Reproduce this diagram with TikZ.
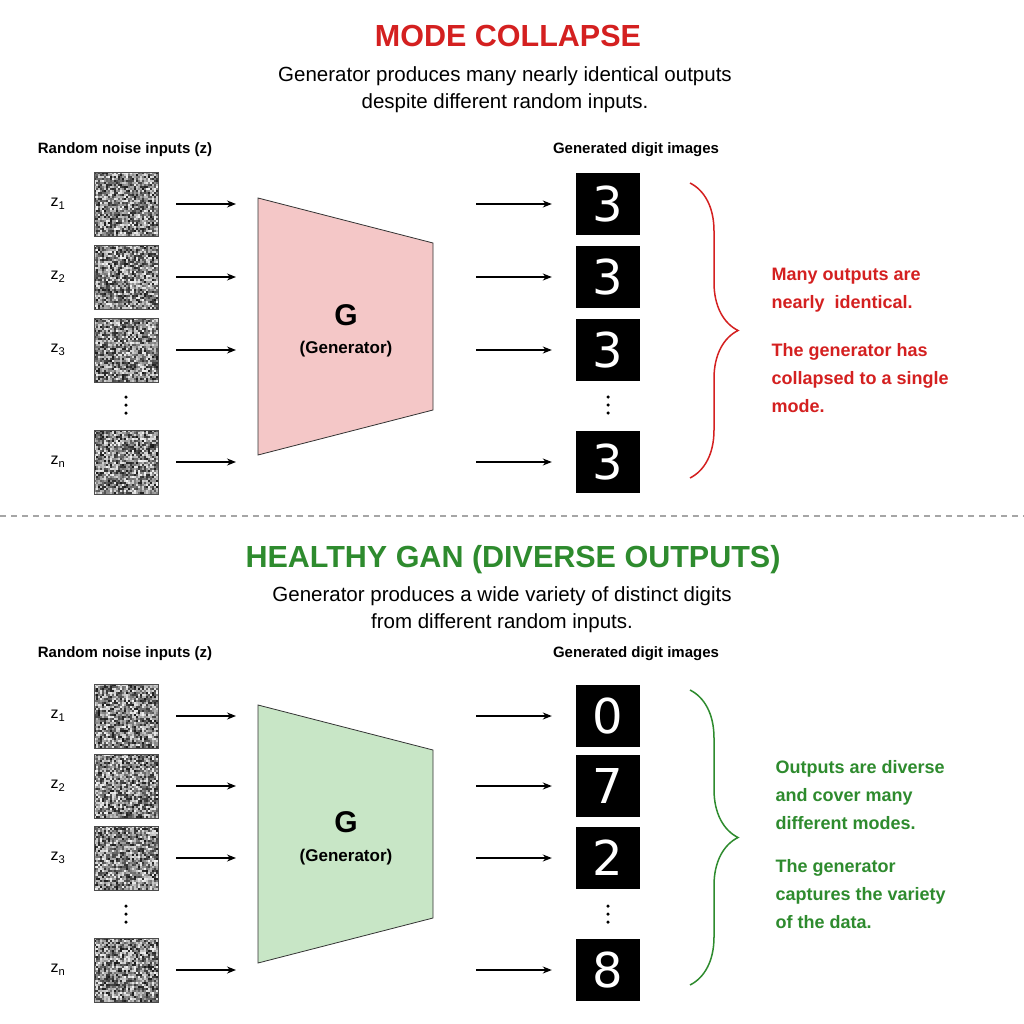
\documentclass[tikz,border=0pt]{standalone}
\usepackage{fontspec}
\setmainfont{Liberation Sans}
\newfontfamily\digitfont{DejaVu Sans}
\usetikzlibrary{decorations.pathreplacing,arrows.meta}
\definecolor{collred}{HTML}{D42020}
\definecolor{healthgreen}{HTML}{2E8B2E}
\definecolor{genpink}{HTML}{F4C7C7}
\definecolor{gengreen}{HTML}{C8E6C6}
\tikzset{
  noise/.style={draw=black!70, minimum size=64pt, inner sep=0pt},
  digit/.style={fill=black, text=white, minimum width=64pt, minimum height=62pt, inner sep=0pt, font=\digitfont\fontsize{48}{48}\selectfont},
  zlabel/.style={font=\fontsize{16}{16}\selectfont},
  arr/.style={-{Stealth[length=9pt,width=7pt]}, line width=1.3pt},
  hdr/.style={font=\bfseries\fontsize{15}{15}\selectfont},
  sub/.style={align=center, font=\fontsize{20.5}{27}\selectfont},
  note/.style={align=left, anchor=west, font=\bfseries\fontsize{18}{28}\selectfont},
  dot/.style={circle, fill=black, inner sep=0pt, minimum size=3.5pt},
}
\newcommand{\noisefill}[2]{%
  \foreach \u in {0,...,31} \foreach \v in {0,...,31} {%
    \pgfmathrandominteger{\r}{5}{90}%
    \fill[black!\r] (#1+\u*2, #2+\v*2) rectangle ++(2,2);}}
\newcommand{\vdotsat}[2]{%
  \foreach \t in {-8,0,8} \node[dot] at (#1,#2+\t) {};}
\begin{document}
\begin{tikzpicture}[x=1pt,y=-1pt]
\pgfmathsetseed{7}
\useasboundingbox[fill=white] (0,0) rectangle (1024,1024);
\begin{scope}
\node[text=collred, font=\bfseries\fontsize{30.5}{30.5}\selectfont] (title) at (508,36) {MODE COLLAPSE};
\node[sub] (subt) at (505,90) {Generator produces many nearly identical outputs\\despite different random inputs.};
\node[hdr] (inhdr) at (125,150) {Random noise inputs (z)};
\node[hdr] (outhdr) at (636,150) {Generated digit images};
\fill[genpink, draw=black!80, line width=0.8pt] (258,198) -- (433,243) -- (433,410) -- (258,455) -- cycle;
\node[font=\bfseries\fontsize{30}{30}\selectfont] (G) at (346,315) {G};
\node[font=\bfseries\fontsize{17}{17}\selectfont] (Gtxt) at (346,349) {(Generator)};
\foreach \y/\k in {204/1,277/2,350/3,462/n} {
  \noisefill{94}{\y-32}
  \node[noise] (z\k) at (126,\y) {};
  \node[zlabel] (lz\k) at (58,\y) {z$_{\mathrm{\k}}$};
  \coordinate (a\k) at (236,\y);
  \coordinate (b\k) at (476,\y);
  \node[digit] (d\k) at (608,\y) {3};
  \draw[arr, shorten <=18pt] (z\k.east) -- (a\k);
  \draw[arr, shorten >=24pt] (b\k) -- (d\k.west);
}
\vdotsat{126}{405}
\vdotsat{608}{405}
\coordinate (bt) at (690,183);
\coordinate (bb) at (690,478);
\draw[collred, line width=1.5pt, decorate, decoration={brace, amplitude=48pt, aspect=0.5}] (bt) -- (bb);
\node[note, text=collred] (n1) at (768,290) {Many outputs are\\nearly\ \ identical.};
\node[note, text=collred] (n2) at (768,378) {The generator has\\collapsed to a single\\mode.};
\end{scope}
\draw[black!35, line width=1.2pt, dash pattern=on 6pt off 5pt] (0,516) -- (1024,516);
\begin{scope}
\node[text=healthgreen, font=\bfseries\fontsize{30.5}{30.5}\selectfont] (title2) at (513,560) {HEALTHY GAN (DIVERSE OUTPUTS)};
\node[sub] (subt2) at (502,610) {Generator produces a wide variety of distinct digits\\from different random inputs.};
\node[hdr] (inhdr2) at (125,654) {Random noise inputs (z)};
\node[hdr] (outhdr2) at (636,654) {Generated digit images};
\fill[gengreen, draw=black!80, line width=0.8pt] (258,705) -- (433,750) -- (433,918) -- (258,963) -- cycle;
\node[font=\bfseries\fontsize{30}{30}\selectfont] (G2) at (346,822) {G};
\node[font=\bfseries\fontsize{17}{17}\selectfont] (Gtxt2) at (346,857) {(Generator)};
\foreach \y/\k/\d in {716/1/0,786/2/7,858/3/2,970/n/8} {
  \noisefill{94}{\y-32}
  \node[noise] (y\k) at (126,\y) {};
  \node[zlabel] (ly\k) at (58,\y) {z$_{\mathrm{\k}}$};
  \coordinate (c\k) at (236,\y);
  \coordinate (e\k) at (476,\y);
  \node[digit] (g\k) at (608,\y) {\d};
  \draw[arr, shorten <=18pt] (y\k.east) -- (c\k);
  \draw[arr, shorten >=24pt] (e\k) -- (g\k.west);
}
\vdotsat{126}{914}
\vdotsat{608}{914}
\coordinate (ct) at (690,690);
\coordinate (cb) at (690,985);
\draw[healthgreen, line width=1.5pt, decorate, decoration={brace, amplitude=48pt, aspect=0.5}] (ct) -- (cb);
\node[note, text=healthgreen] (m1) at (772,795) {Outputs are diverse\\and cover many\\different modes.};
\node[note, text=healthgreen] (m2) at (772,894) {The generator\\captures the variety\\of the data.};
\end{scope}
\end{tikzpicture}
\end{document}
